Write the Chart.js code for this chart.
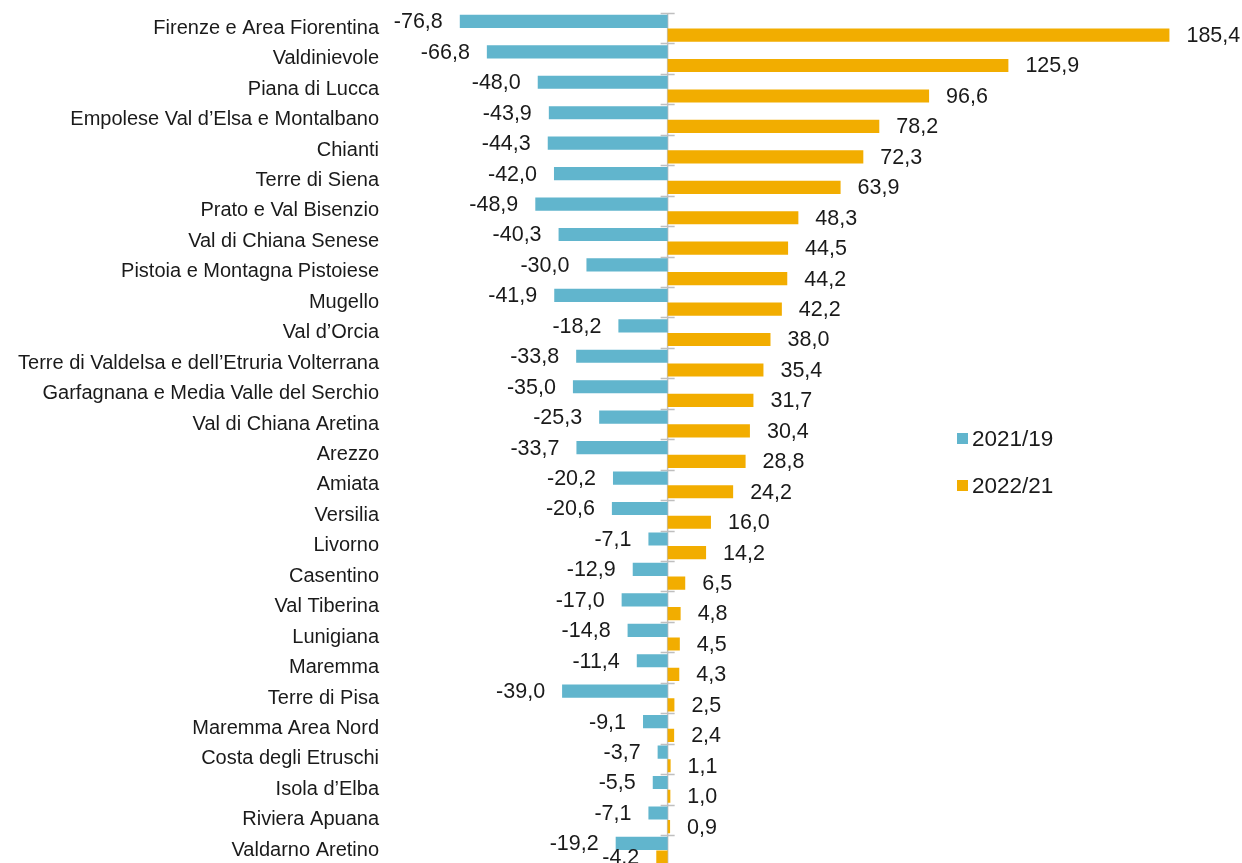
<!DOCTYPE html>
<html><head><meta charset="utf-8">
<script src="https://cdn.jsdelivr.net/npm/chart.js@4.4.0/dist/chart.umd.min.js"></script>
<style>
html,body{margin:0;padding:0;background:#fff;overflow:hidden;}
#wrap{width:1242px;height:863px;overflow:hidden;position:relative;}
canvas{display:block;}
</style></head><body>
<div id="wrap"><canvas id="c" width="1242" height="870"></canvas></div>
<script>
const categories = [
  'Firenze e Area Fiorentina','Valdinievole','Piana di Lucca','Empolese Val d’Elsa e Montalbano',
  'Chianti','Terre di Siena','Prato e Val Bisenzio','Val di Chiana Senese',
  'Pistoia e Montagna Pistoiese','Mugello','Val d’Orcia','Terre di Valdelsa e dell’Etruria Volterrana',
  'Garfagnana e Media Valle del Serchio','Val di Chiana Aretina','Arezzo','Amiata',
  'Versilia','Livorno','Casentino','Val Tiberina','Lunigiana','Maremma','Terre di Pisa',
  'Maremma Area Nord','Costa degli Etruschi','Isola d’Elba','Riviera Apuana','Valdarno Aretino'
];
const values2021vs19 = [-76.8,-66.8,-48.0,-43.9,-44.3,-42.0,-48.9,-40.3,-30.0,-41.9,-18.2,-33.8,-35.0,-25.3,-33.7,-20.2,-20.6,-7.1,-12.9,-17.0,-14.8,-11.4,-39.0,-9.1,-3.7,-5.5,-7.1,-19.2];
const values2022vs21 = [185.4,125.9,96.6,78.2,72.3,63.9,48.3,44.5,44.2,42.2,38.0,35.4,31.7,30.4,28.8,24.2,16.0,14.2,6.5,4.8,4.5,4.3,2.5,2.4,1.1,1.0,0.9,-4.2];
const seriesNames = ['2021/19','2022/21'];
const seriesColors = ['#61b5cd','#f2ad00'];
const xMin = -100, xMax = 210;

const FONT = '"Liberation Sans", Arial, sans-serif';
const fmt = v => v.toFixed(1).replace('.', ',');

const zeroAxisPlugin = {
  id: 'zeroAxis',
  beforeDatasetsDraw(chart) {
    const {ctx, chartArea} = chart;
    const x0 = chart.scales.x.getPixelForValue(0);
    const n = categories.length;
    const band = (chartArea.bottom - chartArea.top) / n;
    ctx.save();
    ctx.strokeStyle = '#bfbfbf';
    ctx.lineWidth = 1.5;
    ctx.beginPath();
    ctx.moveTo(x0, chartArea.top);
    ctx.lineTo(x0, chartArea.bottom);
    for (let i = 0; i <= n; i++) {
      const y = Math.round(chartArea.top + i * band) + 0.5;
      ctx.moveTo(x0 - 7, y);
      ctx.lineTo(x0 + 7, y);
    }
    ctx.stroke();
    ctx.restore();
  }
};

const valueLabelsPlugin = {
  id: 'valueLabels',
  afterDatasetsDraw(chart) {
    const {ctx} = chart;
    ctx.save();
    ctx.font = '21.5px ' + FONT;
    ctx.fillStyle = '#1a1a1a';
    ctx.textBaseline = 'middle';
    chart.data.datasets.forEach((ds, i) => {
      const meta = chart.getDatasetMeta(i);
      meta.data.forEach((bar, j) => {
        const v = ds.data[j];
        if (v >= 0) { ctx.textAlign = 'left'; ctx.fillText(fmt(v), bar.x + 17, bar.y + 1); }
        else { ctx.textAlign = 'right'; ctx.fillText(fmt(v), bar.x - 17, bar.y + 1); }
      });
    });
    ctx.restore();
  }
};

const legendPlugin = {
  id: 'customLegend',
  afterDraw(chart) {
    const {ctx} = chart;
    ctx.save();
    ctx.font = '22.5px ' + FONT;
    ctx.textBaseline = 'middle';
    ctx.textAlign = 'left';
    const x = 957;
    const ys = [438.5, 485.5];
    chart.data.datasets.forEach((ds, i) => {
      ctx.fillStyle = ds.backgroundColor;
      ctx.fillRect(x, ys[i] - 5.5, 11, 11);
      ctx.fillStyle = '#1a1a1a';
      ctx.fillText(ds.label, x + 15, ys[i] + 1);
    });
    ctx.restore();
  }
};

new Chart(document.getElementById('c'), {
  type: 'bar',
  data: {
    labels: categories,
    datasets: [
      {label: seriesNames[0], data: values2021vs19, backgroundColor: seriesColors[0]},
      {label: seriesNames[1], data: values2022vs21, backgroundColor: seriesColors[1]}
    ]
  },
  options: {
    indexAxis: 'y',
    responsive: false,
    animation: false,
    devicePixelRatio: 1,
    categoryPercentage: 0.9,
    barPercentage: 0.96,
    layout: {padding: {top: 13, bottom: 4.5, right: 6, left: 0}},
    plugins: {legend: {display: false}, tooltip: {enabled: false}},
    scales: {
      x: {display: false, min: xMin, max: xMax},
      y: {
        grid: {display: false, drawTicks: false},
        border: {display: false},
        ticks: {padding: 18, color: '#1a1a1a', font: {family: FONT, size: 20}, autoSkip: false},
        afterFit(scale) {
          scale.width = 397;
          scale.paddingTop = 0;
          scale.paddingBottom = 0;
        }
      }
    }
  },
  plugins: [zeroAxisPlugin, valueLabelsPlugin, legendPlugin]
});
</script>
</body></html>
